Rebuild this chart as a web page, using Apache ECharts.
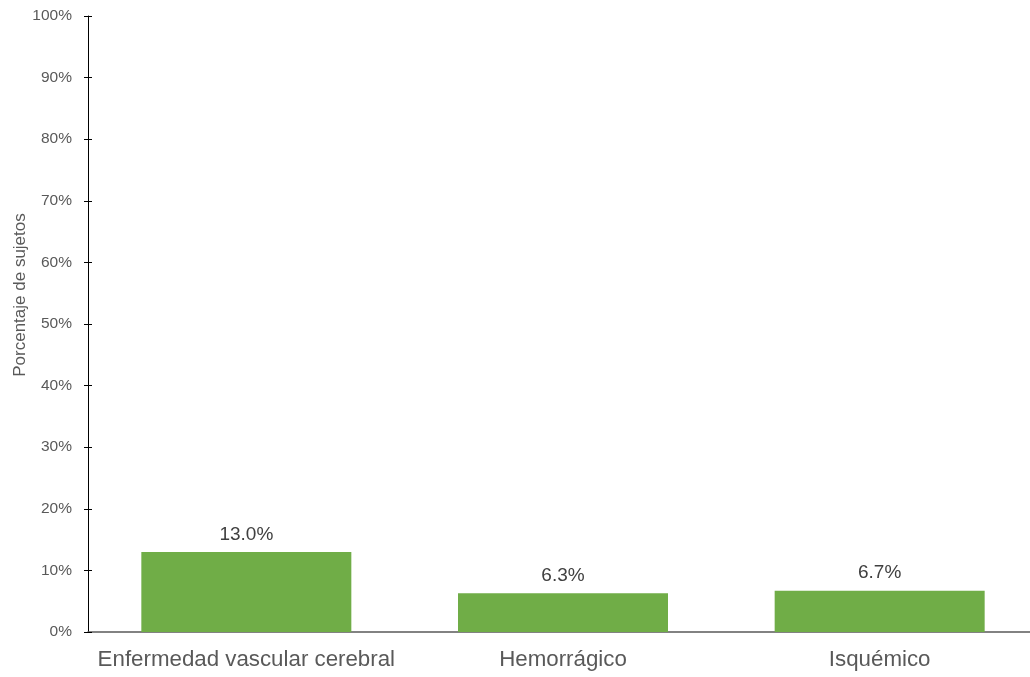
<!DOCTYPE html>
<html>
<head>
<meta charset="utf-8">
<script src="https://cdn.jsdelivr.net/npm/echarts@6/dist/echarts.min.js"></script>
<style>
html, body { margin: 0; padding: 0; background: #fff; }
#chart { width: 1030px; height: 677px; }
</style>
</head>
<body>
<div id="chart"></div>
<script>
// Categories and percentages of subjects
const categories = ['Enfermedad vascular cerebral', 'Hemorrágico', 'Isquémico'];
const values = [13.0, 6.3, 6.7];
const yTicks = [0, 10, 20, 30, 40, 50, 60, 70, 80, 90, 100];

const chart = echarts.init(document.getElementById('chart'));
const font = '"Liberation Sans", Arial, sans-serif';

chart.setOption({
  animation: false,
  grid: { left: 88, right: -8, top: 16, bottom: 45, outerBoundsMode: 'none' },
  xAxis: {
    type: 'category',
    data: categories,
    axisLine: { lineStyle: { color: '#595959', width: 1.5 } },
    axisTick: { show: false },
    axisLabel: { color: '#595959', fontSize: 22.3, fontFamily: font, margin: 17, interval: 0 }
  },
  yAxis: [
    {
      type: 'value',
      min: yTicks[0],
      max: yTicks[yTicks.length - 1],
      interval: 10,
      name: 'Porcentaje de sujetos',
      nameLocation: 'middle',
      nameGap: 59,
      nameRotate: 90,
      nameMoveOverlap: false,
      nameTextStyle: { color: '#595959', fontSize: 17, fontFamily: font, padding: [0, 0, 0, 58] },
      axisLine: { show: true, lineStyle: { color: '#000', width: 1 } },
      axisTick: { show: true, length: 4, lineStyle: { color: '#000' } },
      axisLabel: { color: '#595959', fontSize: 15.5, fontFamily: font, margin: 16, formatter: '{value}%' },
      splitLine: { show: false }
    },
    {
      // inner half of the cross ticks
      type: 'value',
      position: 'left',
      min: yTicks[0],
      max: yTicks[yTicks.length - 1],
      interval: 10,
      axisLine: { show: false },
      axisTick: { show: true, inside: true, length: 4, lineStyle: { color: '#000' } },
      axisLabel: { show: false },
      splitLine: { show: false }
    }
  ],
  series: [{
    type: 'bar',
    data: values,
    barWidth: 210,
    itemStyle: { color: '#70AD47' },
    label: {
      show: true,
      position: 'top',
      distance: 8,
      color: '#404040',
      fontSize: 19,
      fontFamily: font,
      formatter: p => p.value.toFixed(1) + '%'
    }
  }]
});
</script>
</body>
</html>
